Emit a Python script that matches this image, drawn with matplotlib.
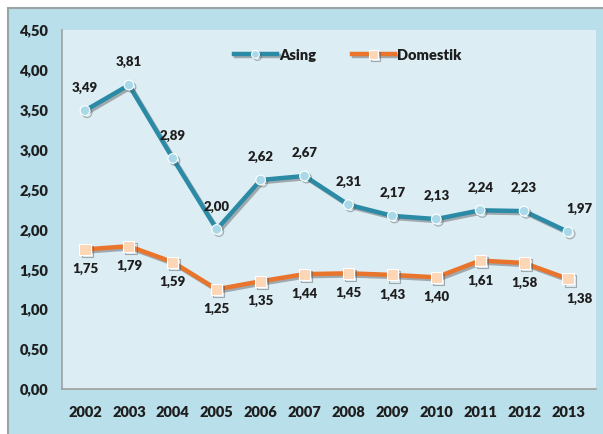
import matplotlib
matplotlib.use("Agg")
import matplotlib.pyplot as plt
import matplotlib.patheffects as pe
from matplotlib.patches import Rectangle

years = [2002, 2003, 2004, 2005, 2006, 2007, 2008, 2009, 2010, 2011, 2012, 2013]
asing = [3.49, 3.81, 2.89, 2.00, 2.62, 2.67, 2.31, 2.17, 2.13, 2.24, 2.23, 1.97]
domestik = [1.75, 1.79, 1.59, 1.25, 1.35, 1.44, 1.45, 1.43, 1.40, 1.61, 1.58, 1.38]
yticks = [0, 0.5, 1.0, 1.5, 2.0, 2.5, 3.0, 3.5, 4.0, 4.5]

def fmt(v):
    return f"{v:.2f}".replace(".", ",")

plt.rcParams['font.family'] = ['Lato', 'DejaVu Sans']
WT = 'heavy'

W, H = 603, 434
fig = plt.figure(figsize=(W/100, H/100), dpi=100)
fig.patch.set_facecolor('#ffffff')
fig.add_artist(Rectangle((8/W, -0.1), 1, (H-8)/H + 0.1, transform=fig.transFigure,
                         facecolor='#b9dfea', edgecolor='#9aa3a6', lw=1.5, zorder=-10))

l, r, t, b = 62, 596, 30, 389
ax = fig.add_axes([l/W, 1-b/H, (r-l)/W, (b-t)/H])
ax.set_facecolor('#dcedf4')

x0, x1 = 85, 568
step = (x1-x0)/11
ax.set_xlim(2002 - (x0-l)/step, 2013 + (r-x1)/step)
ax.set_ylim(0, 4.5)

shadow = [pe.SimpleLineShadow(offset=(1.5, -1.5), shadow_color='#555555', alpha=0.45), pe.Normal()]

ax.plot(years, asing, color='#2b8aa6', lw=3.2, marker='o', ms=7,
        markerfacecolor='#a9d9e9', markeredgecolor='#ffffff', markeredgewidth=0.8,
        label='Asing', path_effects=shadow, zorder=3)
ax.plot(years, domestik, color='#e9742b', lw=3.2, marker='s', ms=8,
        markerfacecolor='#fdd6b6', markeredgecolor='#ffffff', markeredgewidth=0.8,
        label='Domestik', path_effects=shadow, zorder=3)

for x, v in zip(years, asing):
    dx = 8 if x == 2013 else 0
    ax.annotate(fmt(v), (x, v), xytext=(dx, 12), textcoords='offset points',
                ha='center', va='bottom', fontsize=9.5, fontweight=WT, color='#1e1e1e')
for x, v in zip(years, domestik):
    dx = 8 if x == 2013 else 0
    ax.annotate(fmt(v), (x, v), xytext=(dx, -10), textcoords='offset points',
                ha='center', va='top', fontsize=9.5, fontweight=WT, color='#1e1e1e')

ax.set_yticks(yticks)
ax.set_yticklabels([fmt(v) for v in yticks], fontsize=10.5, fontweight=WT, color='#1e1e1e')
ax.set_xticks(years)
ax.set_xticklabels([str(y) for y in years], fontsize=10.5, fontweight=WT, color='#1e1e1e')
ax.tick_params(length=0, pad=10)
ax.tick_params(axis='x', pad=12)
for s in ['top', 'right']:
    ax.spines[s].set_visible(False)
for s in ['left', 'bottom']:
    ax.spines[s].set_color('#a0a0a0')
    ax.spines[s].set_linewidth(1.2)

leg = ax.legend(loc='upper center', bbox_to_anchor=(0.535, 0.985), ncol=2, frameon=False,
                prop={'weight': WT, 'size': 10.5}, handlelength=3.0, markerscale=0.8,
                columnspacing=2.4, handletextpad=0.15)
for txt in leg.get_texts():
    txt.set_color('#1e1e1e')

fig.savefig('out.png', dpi=100, facecolor=fig.get_facecolor())
